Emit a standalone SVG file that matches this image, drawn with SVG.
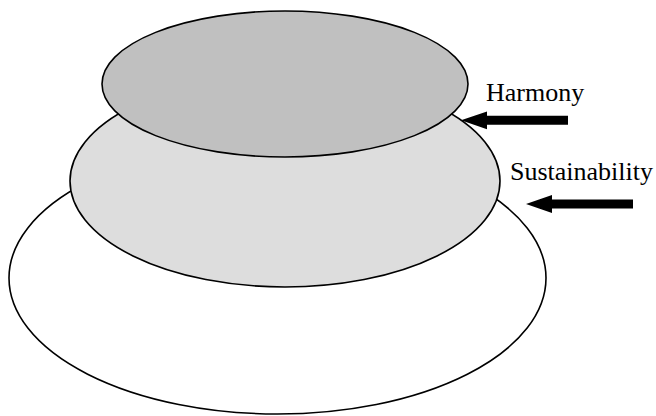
<svg xmlns="http://www.w3.org/2000/svg" width="656" height="416" viewBox="0 0 656 416">
<style>
.e{stroke:#000;stroke-width:1.6}
.t{font-family:"Liberation Serif","Times New Roman",serif;font-size:26px;fill:#000}
.a{fill:#000}
</style>
<rect width="656" height="416" fill="#fff"/>
<g id="base"><ellipse class="e" cx="277.5" cy="278" rx="268.5" ry="136" fill="#fff"/></g>
<g id="sustainability-layer"><ellipse class="e" cx="285" cy="181" rx="215" ry="106" fill="#DDDDDD"/></g>
<g id="harmony-layer"><ellipse class="e" cx="285" cy="84" rx="183" ry="73" fill="#C0C0C0"/></g>
<g id="labels">
<text class="t" x="486" y="101">Harmony</text>
<text class="t" x="510" y="180">Sustainability</text>
</g>
<g id="connectors">
<polygon class="a" points="461,120.3 487,111.5 487,115.8 568,115.8 568,124.8 487,124.8 487,129.2"/>
<polygon class="a" points="526,204 552,195 552,199.5 633,199.5 633,208.5 552,208.5 552,213"/>
</g>
</svg>
